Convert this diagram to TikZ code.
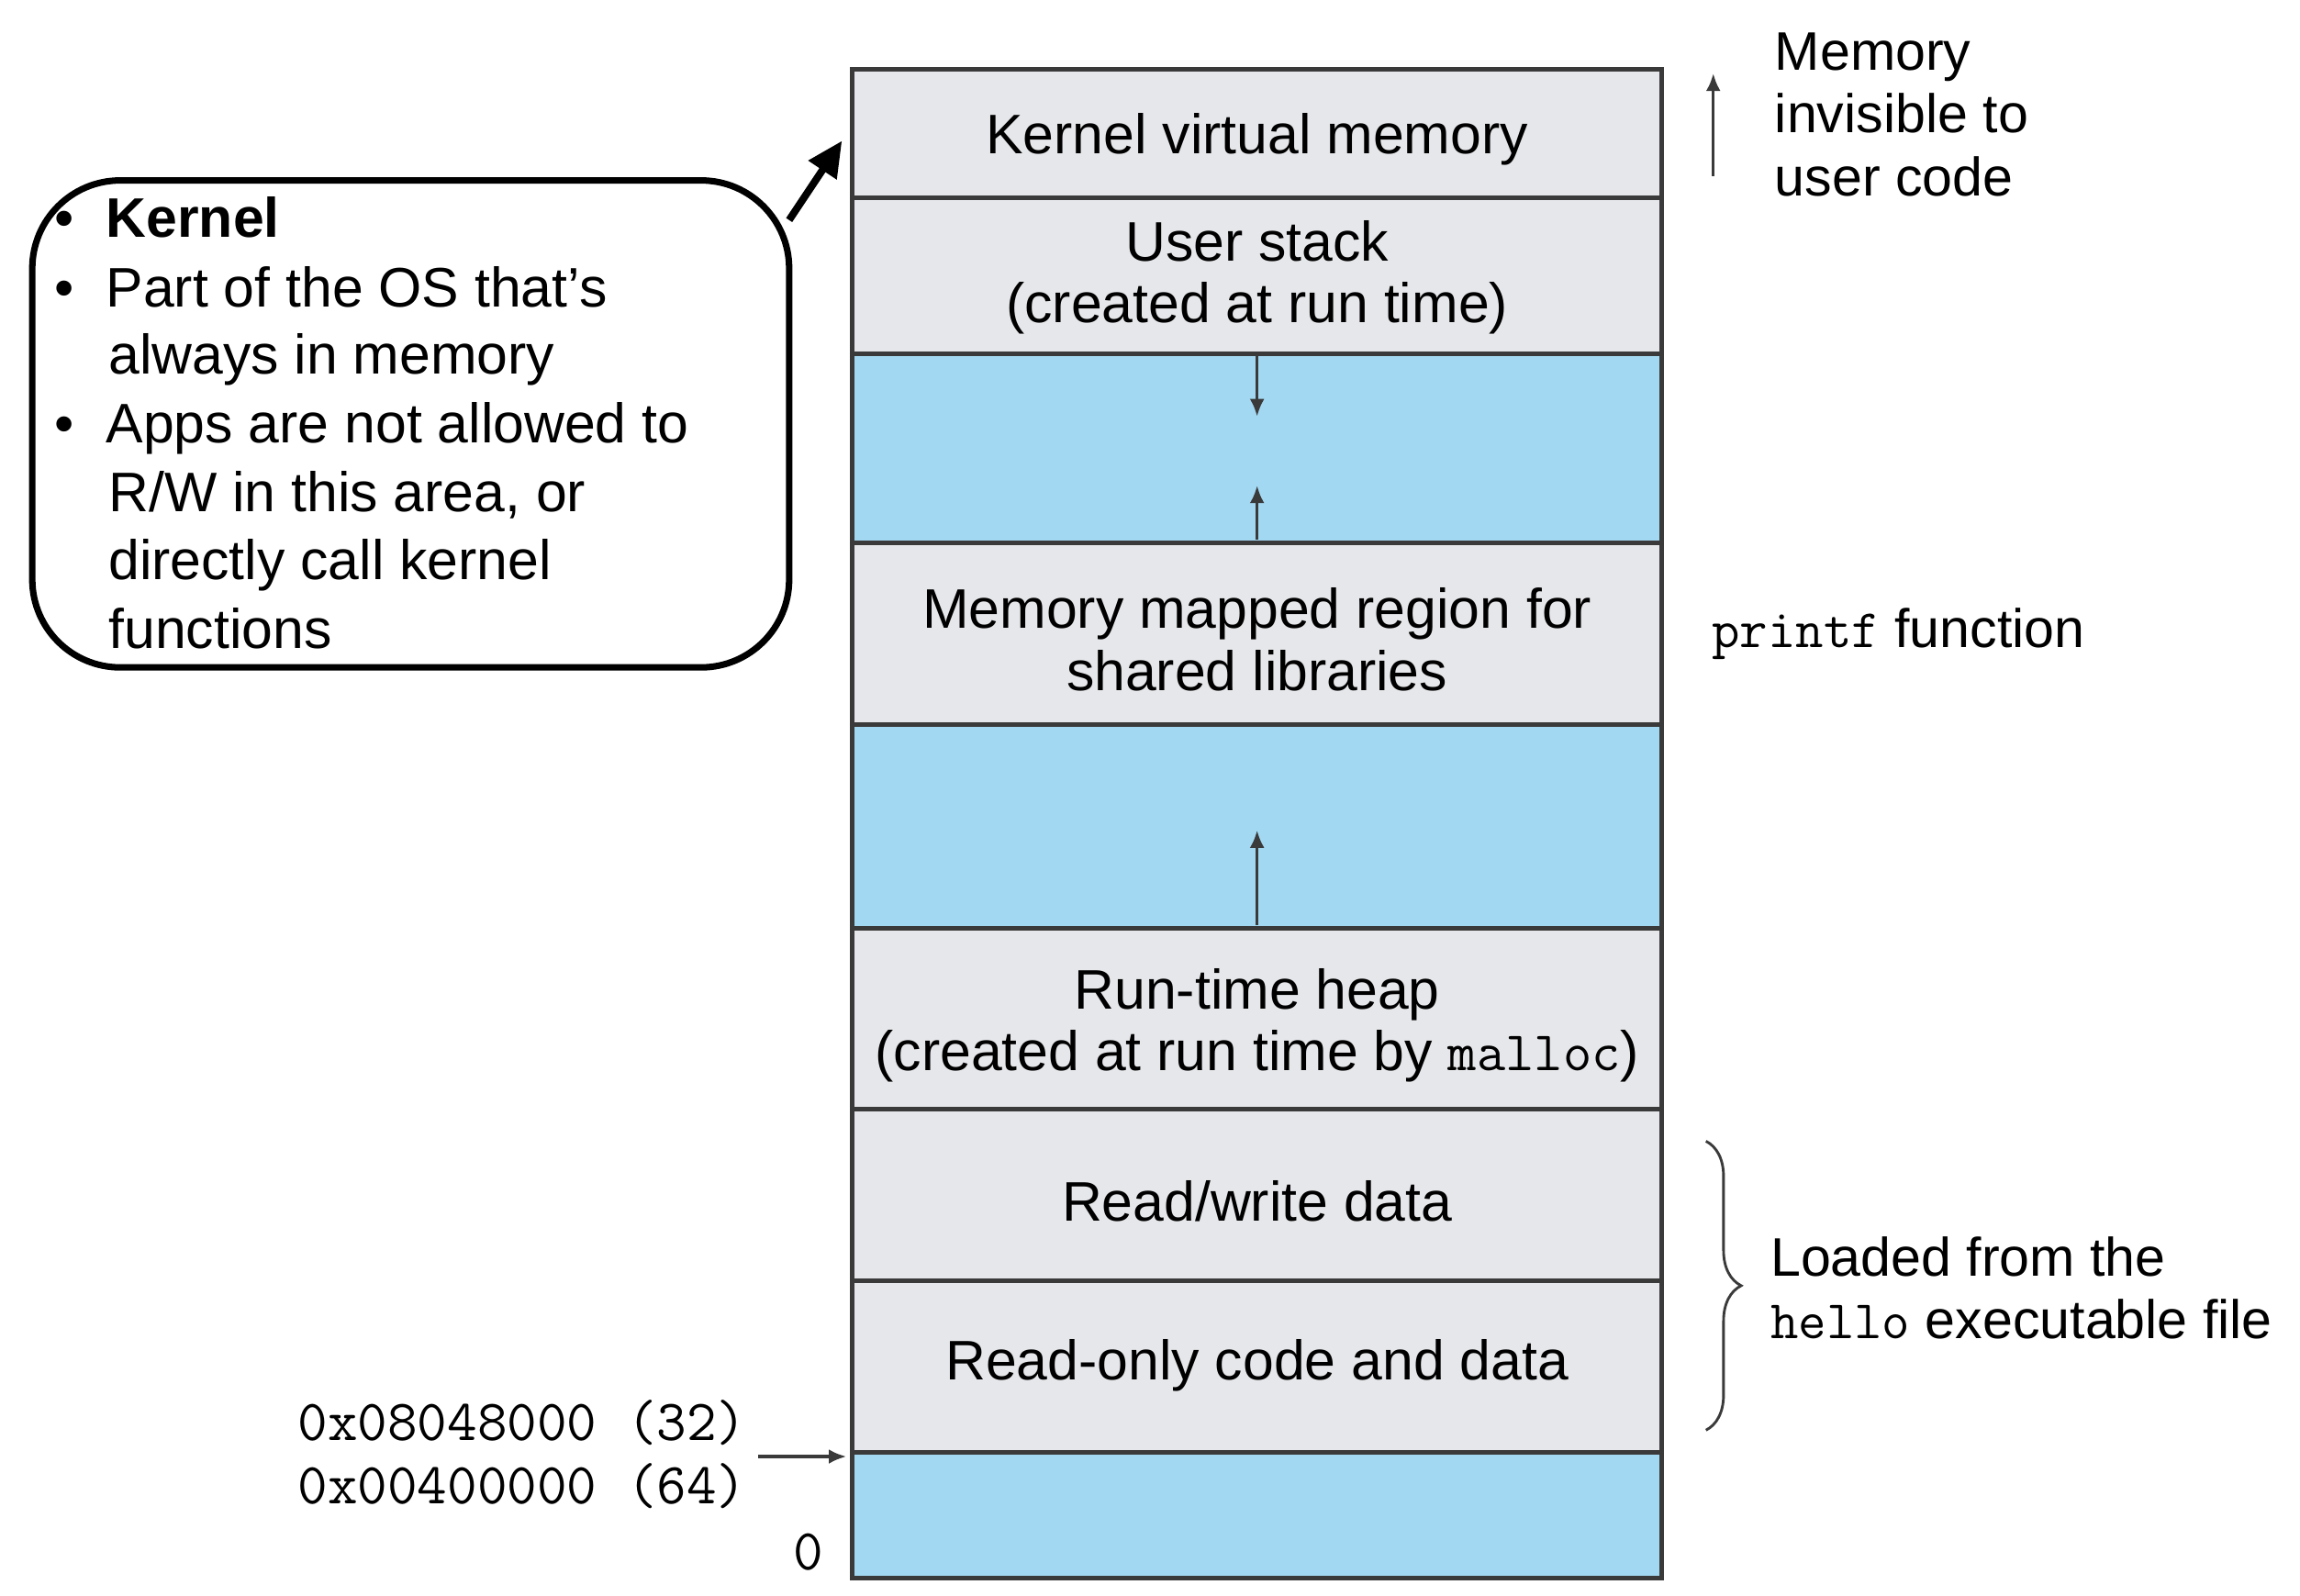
\documentclass[tikz,border=0pt]{standalone}
\usepackage{fontspec}
\setmainfont{Liberation Sans}
\usetikzlibrary{arrows.meta,decorations.pathreplacing}
\definecolor{seg}{HTML}{E6E7EA}
\definecolor{gap}{HTML}{A3D8F2}
\definecolor{edge}{HTML}{3A3A3A}
\begin{document}
\begin{tikzpicture}[x=0.5pt,y=-0.5pt,
  row/.style={draw=edge,line width=1.6pt},
  lbl/.style={font=\fontsize{19}{21}\selectfont,align=center},
  side/.style={font=\fontsize{18.5}{21.5}\selectfont,align=left,anchor=west},
  hex/.style={font=\fontsize{19.8}{22}\selectfont\ttfamily,anchor=east},
  small/.style={-{Latex[length=6pt,width=5pt]},line width=1.1pt,draw=edge},
  call/.style={font=\fontsize{19}{23}\selectfont,anchor=base west}]
\useasboundingbox (0,0) rectangle (1568,1088);
% rows
\fill[seg] (581,47) rectangle (1133,241);
\fill[gap] (581,241) rectangle (1133,370);
\fill[seg] (581,370) rectangle (1133,494);
\fill[gap] (581,494) rectangle (1133,633);
\fill[seg] (581,633) rectangle (1133,990);
\fill[gap] (581,990) rectangle (1133,1076);
\foreach \a/\b in {47/135,135/241,241/370,370/494,494/633,633/756,756/873,873/990,990/1076}
  \draw[row] (581,\a) rectangle (1133,\b);
\node[lbl] (k) at (857,95) {Kernel virtual memory};
\node[lbl] (us) at (857,189) {User stack\\(created at run time)};
\node[lbl] (mm) at (857,436) {Memory mapped region for\\shared libraries};
\node[lbl] (heap) at (857,699) {Run-time heap\\(created at run time by {\ttfamily malloc})};
\node[lbl] (rw) at (857,819) {Read/write data};
\node[lbl] (ro) at (857,931) {Read-only code and data};
% arrows inside
\coordinate (d1) at (857,243); \coordinate (d2) at (857,284);
\draw[small] (d1) -- (d2);
\coordinate (u1) at (857,368); \coordinate (u2) at (857,331);
\draw[small] (u1) -- (u2);
\coordinate (h1) at (857,631); \coordinate (h2) at (857,566);
\draw[small] (h1) -- (h2);
% right side
\coordinate (m1) at (1168,120); \coordinate (m2) at (1168,50);
\draw[small] (m1) -- (m2);
\node[side] (inv) at (1203,78) {Memory\\invisible to\\user code};
\node[side] (pf) at (1160,432) {{\ttfamily printf} function};
\coordinate (b1) at (1163,778); \coordinate (b2) at (1163,975);
\draw[decorate,decoration={brace,amplitude=12pt},line width=0.9pt,draw=edge] (b1) -- (b2);
\node[side] (ld) at (1200,878) {Loaded from the\\{\ttfamily hello} executable file};
% left addresses
\node[hex] (a32) at (516,970) {0x08048000 (32)};
\node[hex] (a64) at (516,1013) {0x00400000 (64)};
\node[font=\fontsize{19.8}{22}\selectfont\ttfamily] (z) at (551,1058) {0};
\coordinate (s1) at (517,993); \coordinate (s2) at (577,993);
\draw[small] (s1) -- (s2);
% callout
\draw[line width=2.2pt,rounded corners=30pt] (22,123) rectangle (538,455);
\node[call] (c1) at (30,162) {•\hspace{11pt}\textbf{Kernel}};
\node[call] (c2) at (30,209) {•\hspace{11pt}Part of the OS that’s};
\node[call] (c3) at (67,255) {always in memory};
\node[call] (c4) at (30,302) {•\hspace{11pt}Apps are not allowed to};
\node[call] (c5) at (67,349) {R/W in this area, or};
\node[call] (c6) at (67,395) {directly call kernel};
\node[call] (c7) at (67,442) {functions};
\coordinate (p1) at (538,150); \coordinate (p2) at (574,96);
\draw[-{Triangle[length=12pt,width=11pt]},line width=2.5pt] (p1) -- (p2);
\end{tikzpicture}
\end{document}
